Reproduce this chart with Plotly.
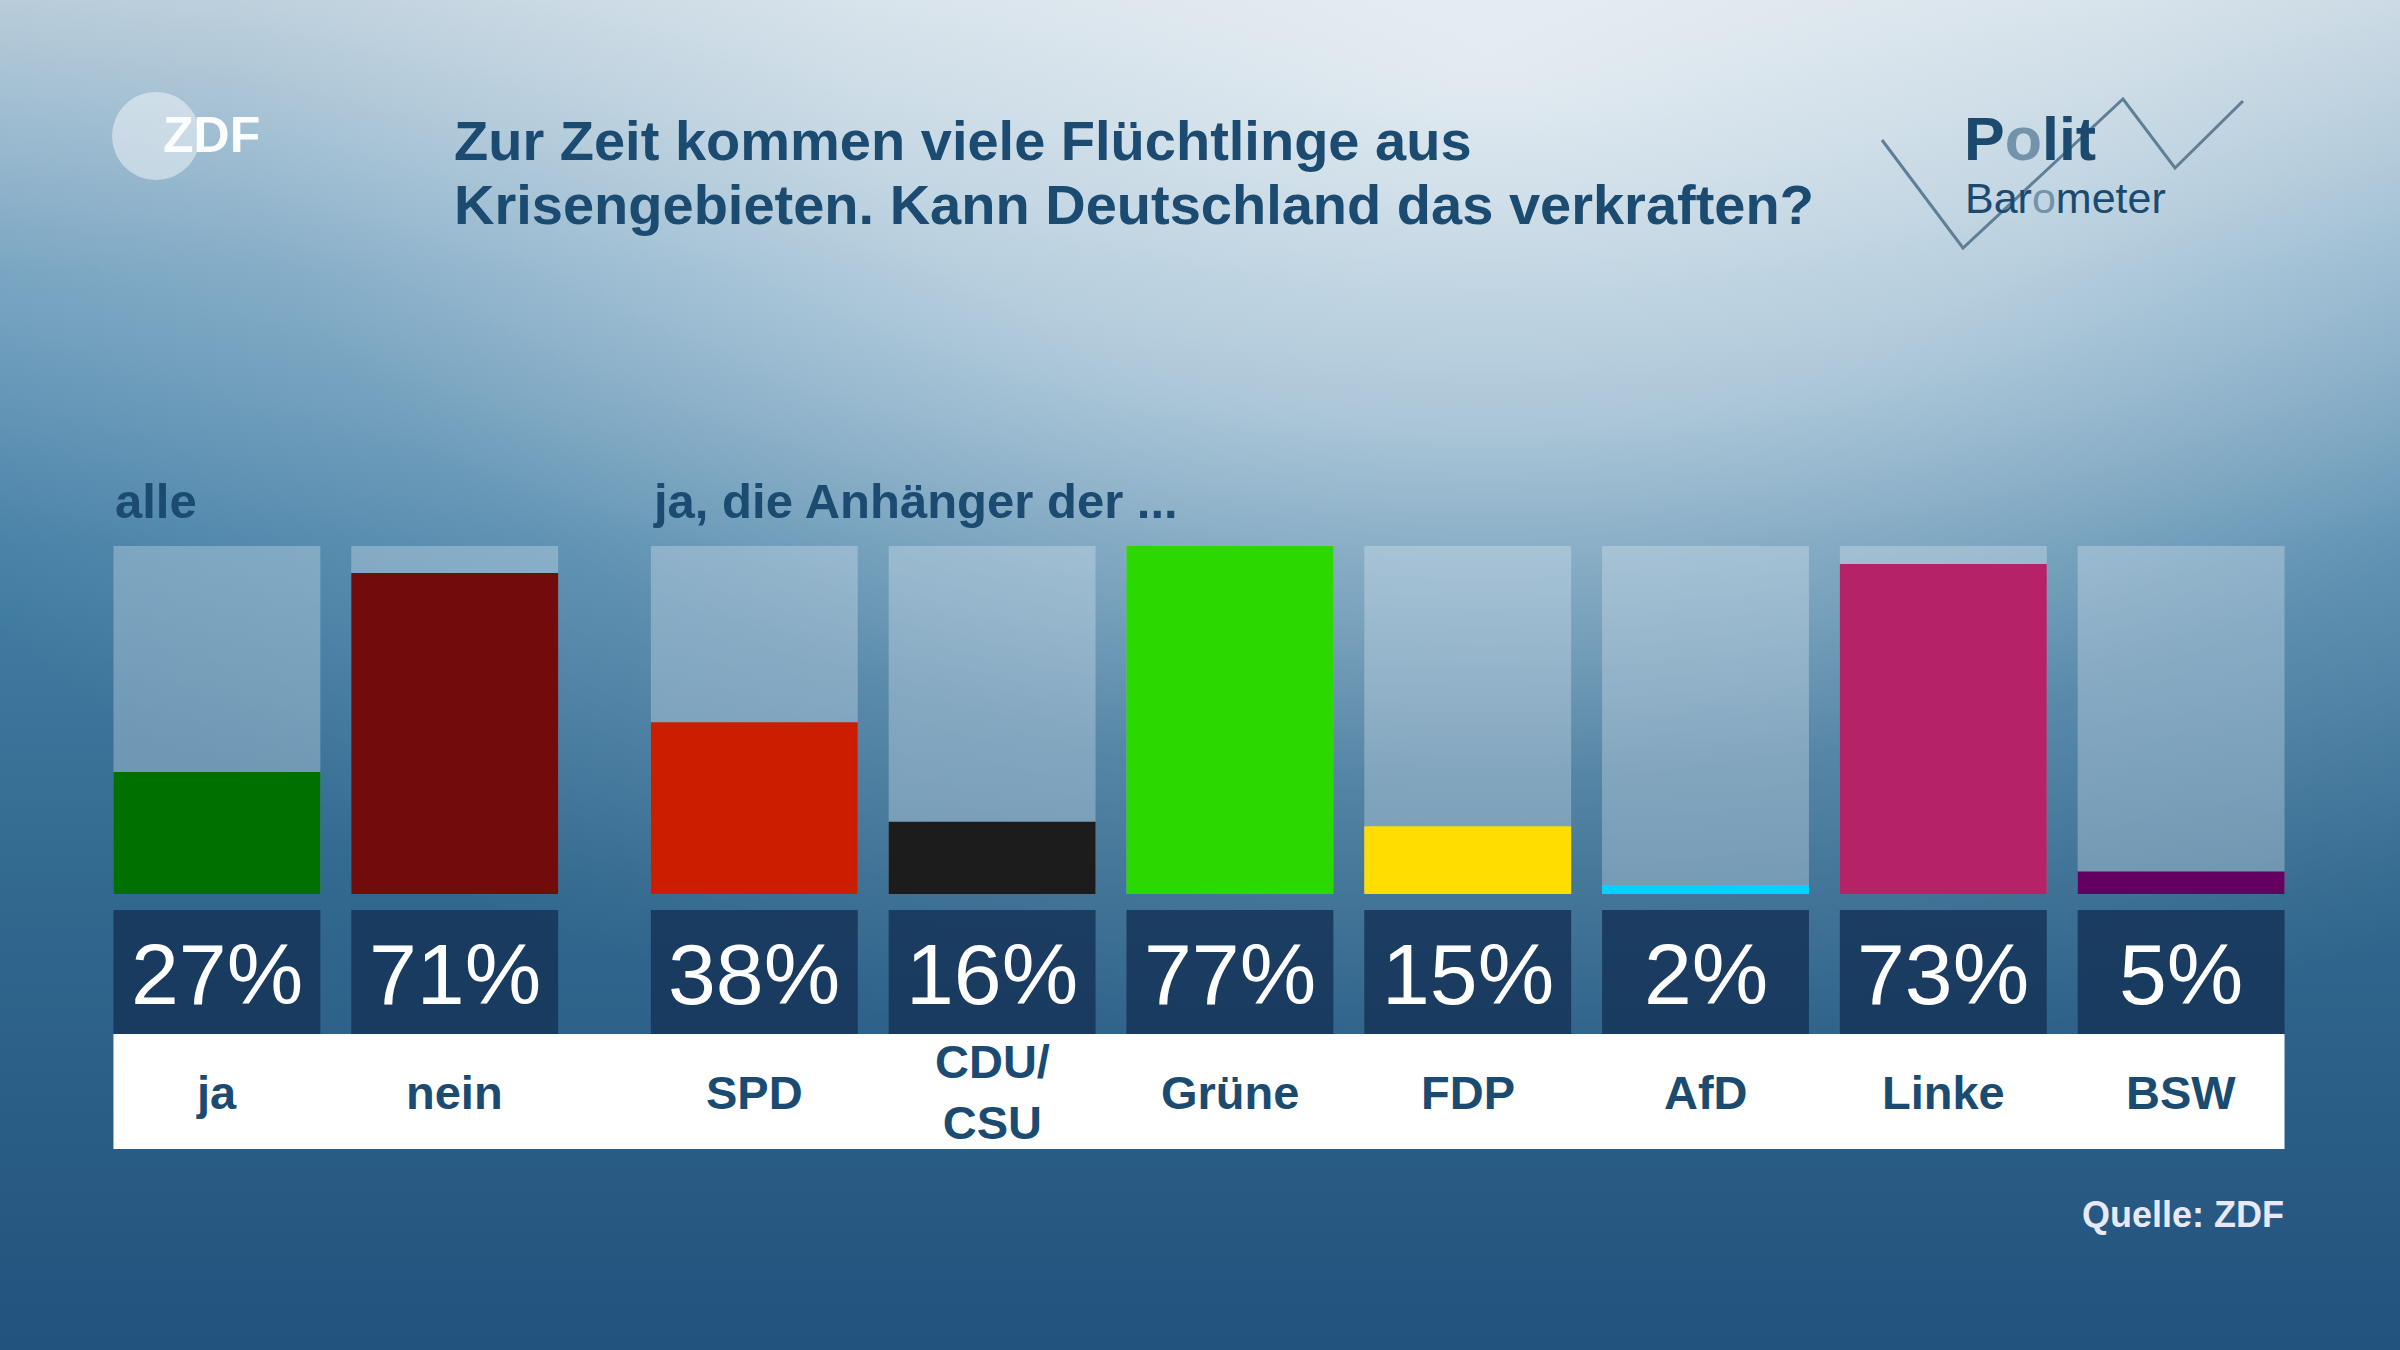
import base64
import plotly.graph_objects as go

# ---------------- data ----------------
categories = ["ja", "nein", "SPD", "CDU/<br>CSU", "Grüne", "FDP", "AfD", "Linke", "BSW"]
values = [27, 71, 38, 16, 77, 15, 2, 73, 5]
bar_colors = ["#007000", "#720b0c", "#cd1d00", "#1c1c1c", "#2bd900",
              "#ffdd00", "#00d4ff", "#b52267", "#650060"]
group_titles = ["alle", "ja, die Anhänger der ..."]
group_sizes = [2, 7]
title_lines = ["Zur Zeit kommen viele Flüchtlinge aus",
               "Krisengebieten. Kann Deutschland das verkraften?"]
source_text = "Quelle: ZDF"

# ---------------- geometry helpers ----------------
W, H = 2400, 1350
ML, MR, MT, MB = 98, 100, 546, 456
PW, PH = W - ML - MR, H - MT - MB
GAP = 0.26
BW = 0.87


def pxx(p):
    return (p - ML) / PW


def pxy(p):
    return (H - MB - p) / PH


# x positions: extra gap after first group
xpos = []
idx = 0
for g, n in enumerate(group_sizes):
    for k in range(n):
        xpos.append(idx + g * GAP)
        idx += 1

ymax = max(values)
NAVY = "#1b4b70"
FONT = "Liberation Sans, Arial, sans-serif"

fig = go.Figure()
fig.add_trace(go.Bar(x=xpos, y=[ymax] * len(values), width=BW,
                     marker=dict(color="rgba(235,243,250,0.30)", line=dict(width=0)),
                     hoverinfo="skip", showlegend=False))
fig.add_trace(go.Bar(x=xpos, y=values, width=BW,
                     marker=dict(color=bar_colors, line=dict(width=0)),
                     showlegend=False))

shapes = []
annotations = []

# white label band
shapes.append(dict(type="rect", xref="x", yref="paper",
                   x0=xpos[0] - BW / 2, x1=xpos[-1] + BW / 2,
                   y0=pxy(1149), y1=pxy(1034),
                   fillcolor="white", line=dict(width=0), layer="above"))
for x, v, c in zip(xpos, values, categories):
    shapes.append(dict(type="rect", xref="x", yref="paper",
                       x0=x - BW / 2, x1=x + BW / 2,
                       y0=pxy(1034), y1=pxy(910),
                       fillcolor="rgba(22,52,88,0.86)", line=dict(width=0), layer="above"))
    annotations.append(dict(x=x, y=pxy(974), xref="x", yref="paper",
                            text=f"{v}%", showarrow=False,
                            font=dict(family=FONT, size=86, color="white"),
                            xanchor="center", yanchor="middle"))
    annotations.append(dict(x=x, y=pxy(1092), xref="x", yref="paper",
                            text=f"<b>{c}</b>", showarrow=False,
                            font=dict(family=FONT, size=47, color=NAVY),
                            xanchor="center", yanchor="middle"))

# group titles
start = 0
for t, n in zip(group_titles, group_sizes):
    annotations.append(dict(x=xpos[start] - BW / 2, y=pxy(501), xref="x", yref="paper",
                            text=f"<b>{t}</b>", showarrow=False,
                            font=dict(family=FONT, size=49, color=NAVY),
                            xanchor="left", yanchor="middle"))
    start += n

# title (two lines)
for line, yc in zip(title_lines, [140, 204]):
    annotations.append(dict(x=pxx(452), y=pxy(yc), xref="paper", yref="paper",
                            text=f"<b>{line}</b>", showarrow=False,
                            align="left", font=dict(family=FONT, size=56, color=NAVY),
                            xanchor="left", yanchor="middle"))

# source
annotations.append(dict(x=pxx(2286), y=pxy(1214), xref="paper", yref="paper",
                        text=f"<b>{source_text}</b>", showarrow=False,
                        font=dict(family=FONT, size=36, color="#e8e8f6"),
                        xanchor="right", yanchor="middle"))

# ZDF logo
shapes.append(dict(type="circle", xref="paper", yref="paper",
                   x0=pxx(112), x1=pxx(200), y0=pxy(180), y1=pxy(92),
                   fillcolor="rgba(255,255,255,0.45)", line=dict(width=0)))
annotations.append(dict(x=pxx(161), y=pxy(135), xref="paper", yref="paper",
                        text="<b>ZDF</b>", showarrow=False,
                        font=dict(family=FONT, size=50, color="rgba(255,255,255,0.95)"),
                        xanchor="left", yanchor="middle"))

# Politbarometer logo
zig = [(1882, 140), (1963, 248), (2123, 99), (2175, 168), (2243, 101)]
path = "M " + " L ".join(f"{pxx(a):.5f},{pxy(b):.5f}" for a, b in zig)
shapes.append(dict(type="path", xref="paper", yref="paper", path=path,
                   line=dict(color="#5f7f97", width=3)))
annotations.append(dict(x=pxx(1962), y=pxy(139), xref="paper", yref="paper",
                        text="<b>P<span style='color:#7393ab'>o</span>lit</b>", showarrow=False,
                        font=dict(family=FONT, size=61, color="#1b4a6e"),
                        xanchor="left", yanchor="middle"))
annotations.append(dict(x=pxx(1963), y=pxy(198), xref="paper", yref="paper",
                        text="Bar<span style='color:#7393ab'>o</span>meter", showarrow=False,
                        font=dict(family=FONT, size=43, color="#1b4a6e"),
                        xanchor="left", yanchor="middle"))

# background gradient
svg = '''<svg xmlns="http://www.w3.org/2000/svg" width="2400" height="1350" viewBox="0 0 2400 1350" preserveAspectRatio="none">
<defs>
<linearGradient id="v" x1="0" y1="0" x2="0" y2="1">
<stop offset="0" stop-color="#b2c8d7"/>
<stop offset="0.2" stop-color="#709fbe"/>
<stop offset="0.4" stop-color="#4580a6"/>
<stop offset="0.65" stop-color="#32698f"/>
<stop offset="1" stop-color="#22527e"/>
</linearGradient>
<radialGradient id="r" cx="0.62" cy="0.05" r="0.75">
<stop offset="0" stop-color="#ffffff" stop-opacity="0.70"/>
<stop offset="0.35" stop-color="#ffffff" stop-opacity="0.5"/>
<stop offset="0.7" stop-color="#ffffff" stop-opacity="0.15"/>
<stop offset="1" stop-color="#ffffff" stop-opacity="0"/>
</radialGradient>
</defs>
<rect width="2400" height="1350" fill="url(#v)"/>
<rect width="2400" height="1350" fill="url(#r)"/>
</svg>'''
src = "data:image/svg+xml;base64," + base64.b64encode(svg.encode()).decode()

fig.update_layout(
    width=W, height=H,
    margin=dict(l=ML, r=MR, t=MT, b=MB, pad=0),
    barmode="overlay",
    paper_bgcolor="#3f7599",
    plot_bgcolor="rgba(0,0,0,0)",
    xaxis=dict(range=[-0.5, xpos[-1] + 0.5], visible=False, fixedrange=True),
    yaxis=dict(range=[0, ymax], visible=False, fixedrange=True),
    shapes=shapes,
    annotations=annotations,
    images=[dict(source=src, xref="paper", yref="paper", x=pxx(0), y=pxy(0),
                 sizex=W / PW, sizey=H / PH, xanchor="left", yanchor="top",
                 sizing="stretch", layer="below")],
    showlegend=False,
)

fig.write_html("out.html", config={"displayModeBar": False},
               post_script="document.body.style.margin='0';document.body.style.overflow='hidden';")
